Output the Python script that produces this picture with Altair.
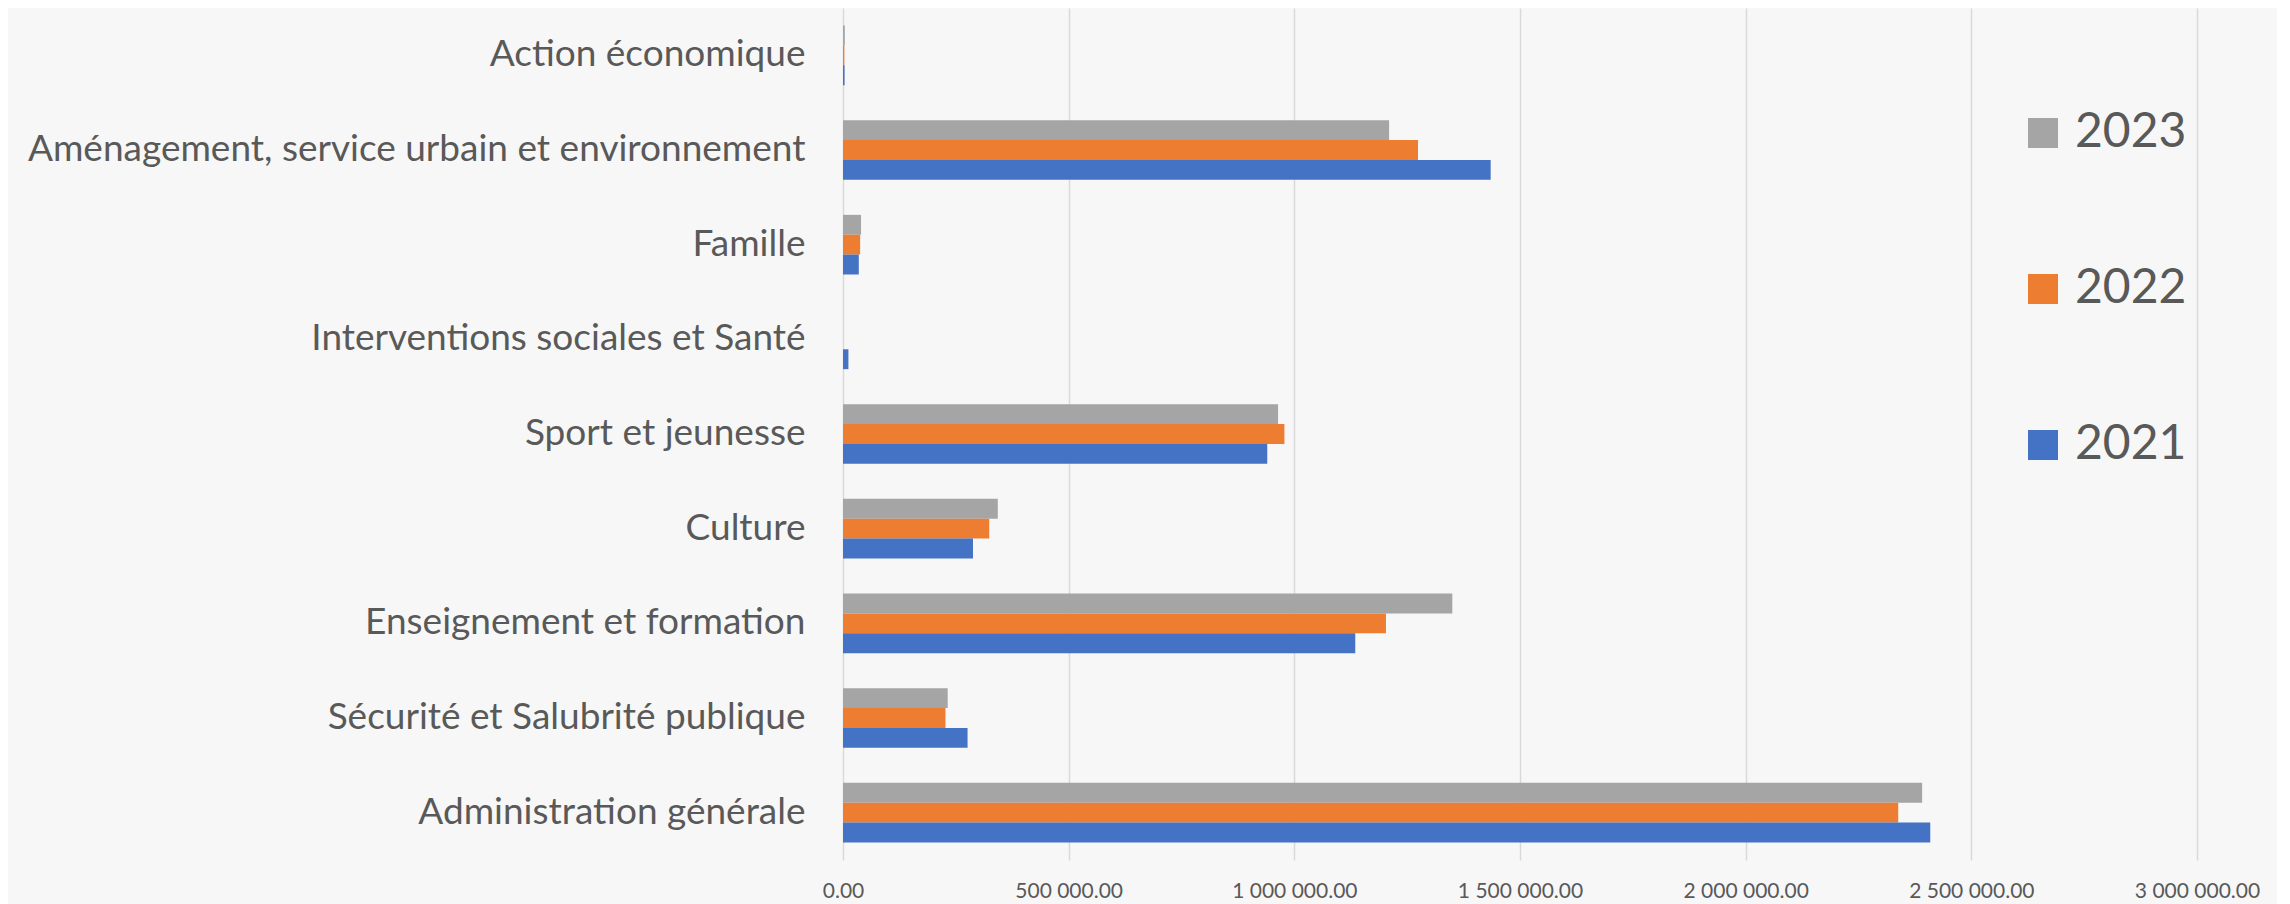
import altair as alt
import pandas as pd

categories = [
    "Action économique",
    "Aménagement, service urbain et environnement",
    "Famille",
    "Interventions sociales et Santé",
    "Sport et jeunesse",
    "Culture",
    "Enseignement et formation",
    "Sécurité et Salubrité publique",
    "Administration générale",
]
years = ["2023", "2022", "2021"]
values_2023 = [4000, 1210000, 40000, 0, 964000, 343000, 1350000, 232000, 2391000]
values_2022 = [3000, 1274000, 38000, 0, 978000, 324000, 1203000, 227000, 2338000]
values_2021 = [3500, 1435000, 35000, 12000, 940000, 288000, 1135000, 276000, 2409000]
colors = ["#a5a5a5", "#ed7d31", "#4472c4"]
x_ticks = [0, 500000, 1000000, 1500000, 2000000, 2500000, 3000000]

rows = []
for yr, vals in zip(years, [values_2023, values_2022, values_2021]):
    for c, v in zip(categories, vals):
        rows.append({"Catégorie": c, "Année": yr, "Montant": v})
df = pd.DataFrame(rows)

FONT = "Lato"
TXT = "#595959"

chart = alt.Chart(df).mark_bar().encode(
    y=alt.Y("Catégorie:N", sort=categories,
            scale=alt.Scale(paddingInner=0.37, paddingOuter=0.185),
            axis=alt.Axis(title=None, ticks=False, domain=False, labelLimit=1200,
                          labelPadding=38, labelFontSize=37, labelFont=FONT,
                          labelColor=TXT, grid=False)),
    yOffset=alt.YOffset("Année:N", sort=years, scale=alt.Scale(paddingInner=0, paddingOuter=0)),
    x=alt.X("Montant:Q", scale=alt.Scale(domain=[0, 3000000], nice=False),
            axis=alt.Axis(title=None, values=x_ticks, ticks=False, domain=False,
                          gridColor="#d9d9d9", gridWidth=1.5,
                          labelFont=FONT, labelFontSize=21, labelColor=TXT,
                          labelPadding=20, labelFlush=False,
                          labelExpr="replace(format(datum.value, ',.2f'), /,/g, ' ')")),
    color=alt.Color("Année:N", scale=alt.Scale(domain=years, range=colors),
                    legend=alt.Legend(title=None, orient="none", legendX=1176, legendY=101,
                                      symbolType="square", symbolSize=900,
                                      symbolStrokeWidth=0, labelFont=FONT,
                                      labelFontSize=48, labelColor=TXT,
                                      labelOffset=8, rowPadding=108, padding=0)),
).properties(
    width=1354, height=852,
    autosize=alt.AutoSizeParams(type="none"),
    padding={"left": 835, "top": 0, "right": 80, "bottom": 44},
).configure(background="#f7f7f7").configure_view(stroke=None)

chart.save("out.html", embed_options={"renderer": "svg", "actions": False})
